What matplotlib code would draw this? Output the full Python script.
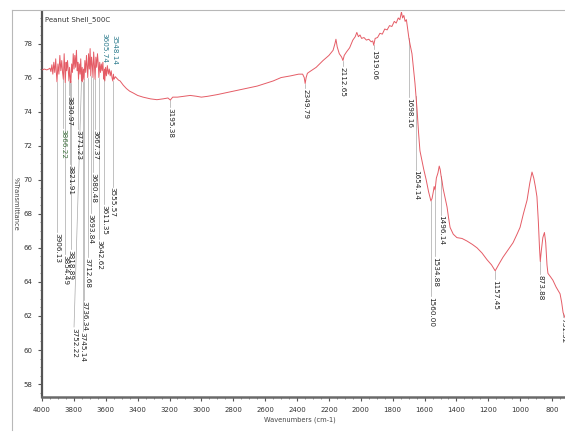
import matplotlib
matplotlib.use("Agg")
import matplotlib.pyplot as plt
from matplotlib.lines import Line2D
from matplotlib.ticker import MultipleLocator

# FTIR spectrum of peanut shell char (500 C): wavenumber (cm-1) vs %T
wavenumber = [
    4000, 3985, 3970, 3958, 3950, 3944, 3938, 3932, 3926, 3920, 3914, 3910, 3906,
    3900, 3894, 3888, 3882, 3876, 3871, 3866, 3861, 3857, 3854, 3849, 3845, 3840,
    3835, 3831, 3827, 3822, 3819, 3814, 3809, 3804, 3799, 3794, 3789, 3784, 3779,
    3775, 3771, 3766, 3761, 3757, 3752, 3748, 3745, 3740, 3736, 3731, 3726, 3721,
    3716, 3713, 3708, 3703, 3698, 3694, 3689, 3685, 3680, 3676, 3671, 3667, 3662,
    3657, 3652, 3647, 3643, 3638, 3633, 3628, 3623, 3618, 3615, 3611, 3608, 3606,
    3601, 3596, 3590, 3584, 3578, 3572, 3566, 3561, 3556, 3552, 3548, 3540, 3530,
    3520, 3510, 3490, 3470, 3450, 3429, 3400, 3366, 3320, 3279, 3240, 3210, 3195,
    3180, 3150, 3110, 3070, 3030, 3000, 2960, 2900, 2850, 2800, 2750, 2700, 2650,
    2600, 2550, 2500, 2440, 2390, 2365, 2355, 2349, 2343, 2335, 2320, 2280, 2237,
    2200, 2174, 2162, 2156, 2148, 2135, 2120, 2112, 2104, 2090, 2070, 2050, 2035,
    2025, 2015, 2005, 1995, 1980, 1965, 1950, 1935, 1925, 1919, 1910, 1895, 1880,
    1865, 1850, 1835, 1820, 1805, 1790, 1778, 1765, 1755, 1745, 1738, 1730, 1722,
    1714, 1705, 1698, 1690, 1679, 1670, 1660, 1654, 1647, 1638, 1629, 1618, 1605,
    1590, 1575, 1560, 1553, 1545, 1540, 1534, 1526, 1516, 1508, 1502, 1496, 1490,
    1484, 1470, 1459, 1450, 1440, 1420, 1397, 1365, 1334, 1300, 1271, 1240, 1208,
    1180, 1157, 1130, 1108, 1075, 1045, 1020, 1001, 980, 957, 940, 926, 915, 905,
    895, 886, 879, 874, 868, 858, 848, 840, 832, 826, 810, 795, 775, 750, 740, 731,
    719,
]
transmittance = [
    76.45, 76.50, 76.45, 76.50, 76.55, 76.35, 76.75, 76.20, 76.90, 76.30, 77.10, 76.30, 75.75,
    76.80, 76.20, 77.30, 76.40, 77.00, 76.30, 75.90, 77.40, 76.50, 75.70, 76.90, 76.40, 77.00,
    76.40, 75.80, 76.60, 75.90, 75.70, 76.80, 76.30, 77.40, 76.50, 77.30, 76.60, 77.60, 76.40,
    76.90, 75.90, 76.80, 76.20, 77.10, 75.80, 76.60, 75.75, 76.50, 75.90, 77.00, 76.30, 77.30,
    76.50, 76.00, 77.40, 76.50, 77.70, 76.10, 77.20, 76.80, 76.00, 77.50, 76.70, 75.90, 77.20,
    76.60, 77.40, 76.80, 76.00, 76.90, 76.30, 76.80, 76.40, 76.90, 76.30, 75.90, 76.50, 75.80,
    76.60, 76.10, 76.70, 76.20, 76.50, 76.10, 76.40, 76.00, 75.80, 76.20, 75.90, 76.05, 75.95,
    75.85, 75.80, 75.55, 75.35, 75.20, 75.10, 74.95, 74.85, 74.75, 74.70, 74.75, 74.80, 74.68,
    74.85, 74.85, 74.90, 74.95, 74.90, 74.85, 74.90, 75.00, 75.10, 75.20, 75.30, 75.40, 75.50,
    75.65, 75.80, 76.00, 76.10, 76.20, 76.20, 76.00, 75.65, 76.00, 76.25, 76.35, 76.60, 77.00,
    77.30, 77.60, 78.00, 78.25, 77.80, 77.40, 77.20, 77.00, 77.30, 77.50, 77.75, 78.20, 78.40,
    78.65, 78.40, 78.50, 78.30, 78.35, 78.20, 78.25, 78.10, 78.15, 77.90, 78.30, 78.35, 78.60,
    78.55, 78.85, 78.80, 79.05, 79.00, 79.30, 79.20, 79.50, 79.40, 79.85, 79.50, 79.65, 79.30,
    79.40, 78.80, 78.30, 77.90, 77.40, 76.60, 75.65, 74.90, 74.10, 72.80, 71.70, 71.20, 70.60,
    70.00, 69.30, 68.75, 68.90, 69.30, 69.60, 69.40, 70.10, 70.40, 70.80, 70.60, 70.20, 69.90,
    69.50, 68.90, 68.40, 67.80, 67.20, 66.80, 66.60, 66.55, 66.40, 66.20, 66.00, 65.70, 65.30,
    65.00, 64.65, 65.10, 65.45, 65.90, 66.30, 66.80, 67.20, 68.00, 68.80, 69.80, 70.45, 70.10, 69.60,
    69.00, 67.50, 66.00, 65.20, 65.80, 66.60, 66.90, 66.30, 65.00, 64.50, 64.30, 64.10, 63.70, 63.30, 62.80, 62.20,
    61.90,
]

# Peak picks: wavenumber of each band, its label text, where the label starts (in %T)
# and where the label is placed horizontally (cm-1)
peak_wn = [3906.13, 3866.22, 3854.49, 3830.97, 3821.91, 3818.89, 3771.23, 3752.22,
           3745.14, 3736.34, 3712.68, 3693.84, 3680.48, 3667.37, 3642.62, 3611.35,
           3605.74, 3555.57, 3548.14, 3195.38, 2349.79, 2112.65, 1919.06, 1698.16,
           1654.14, 1560.00, 1534.88, 1496.14, 1157.45, 873.88, 731.52]
peak_text = [f"{w:.2f}" for w in peak_wn]
label_top = [66.9, 73.0, 65.6, 74.9, 70.85, 65.9, 72.9, 61.3,
             61.05, 62.9, 65.4, 68.0, 70.4, 72.9, 66.45, 68.5,
             78.6, 69.55, 78.5, 74.2, 75.35, 76.6, 77.6, 74.8,
             70.55, 63.1, 65.45, 67.9, 64.1, 64.4, 61.9]
label_wn = [3906.13, 3866.22, 3854.49, 3830.97, 3821.91, 3818.89, 3771.23, 3799.0,
            3745.14, 3736.34, 3712.68, 3693.84, 3680.48, 3667.37, 3642.62, 3611.35,
            3605.74, 3555.57, 3548.14, 3195.38, 2349.79, 2112.65, 1919.06, 1698.16,
            1654.14, 1560.00, 1534.88, 1496.14, 1157.45, 873.88, 731.52]
label_color = ["#222222"] * len(peak_wn)
label_color[16] = "#2a7a8c"
label_color[18] = "#2a7a8c"
label_color[1] = "#3b6e3b"

x_ticks = list(range(4000, 799, -200))
y_ticks = list(range(58, 79, 2))

W, H = 565, 432
fig = plt.figure(figsize=(W / 100, H / 100), dpi=100)
fig.patch.set_facecolor("white")

# light outer frame
fig.add_artist(Line2D([12 / W, 12 / W], [1 - 430 / H, 1 - 10 / H], color="#b8b8b8", lw=0.8))
fig.add_artist(Line2D([12 / W, 1.0], [1 - 10 / H, 1 - 10 / H], color="#b8b8b8", lw=0.8))

ax = fig.add_axes([42 / W, 1 - 397 / H, (W - 42) / W, (397 - 12) / H])
ax.plot(wavenumber, transmittance, color="#e24a55", lw=0.7, alpha=0.9, zorder=3)

ax.set_xlim(4000, 719)
ax.set_ylim(57.24, 79.85)

# peak labels with leader lines
for pw, lw_, txt, top, col in zip(peak_wn, label_wn, peak_text, label_top, label_color):
    # curve value at the band
    i = min(range(len(wavenumber)), key=lambda k: abs(wavenumber[k] - pw))
    yv = transmittance[i]
    if top < yv:
        ax.plot([pw, lw_], [yv, top + 0.05], color="#a8a8a8", lw=0.5, zorder=2)
    ax.text(lw_, top, txt, rotation=270, fontsize=5.2, color=col,
            ha="center", va="top", zorder=4, clip_on=False)

ax.set_xticks(x_ticks)
ax.set_yticks(y_ticks)
ax.xaxis.set_minor_locator(MultipleLocator(50))
ax.yaxis.set_minor_locator(MultipleLocator(0.5))
ax.tick_params(axis="both", which="major", labelsize=5, length=3, width=0.8,
               color="#555555", labelcolor="#333333", pad=4)
ax.tick_params(axis="both", which="minor", length=1.5, width=0.6, color="#777777")

for s in ("top", "right"):
    ax.spines[s].set_visible(False)
ax.spines["left"].set_linewidth(1.6)
ax.spines["left"].set_color("#555555")
ax.spines["bottom"].set_linewidth(1.8)
ax.spines["bottom"].set_color("#6a6a6a")

ax.text(0.006, 0.99, "Peanut Shell_500C", transform=ax.transAxes, fontsize=5,
        color="#333333", ha="left", va="top")

fig.text(300 / W, 1 - 420 / H, "Wavenumbers (cm-1)", fontsize=4.8, color="#444444",
         ha="center", va="center")
fig.text(16 / W, 1 - 204 / H, "%Transmittance", fontsize=4.8, color="#444444",
         ha="center", va="center", rotation=270)

fig.savefig("out.png", dpi=100, facecolor="white")
